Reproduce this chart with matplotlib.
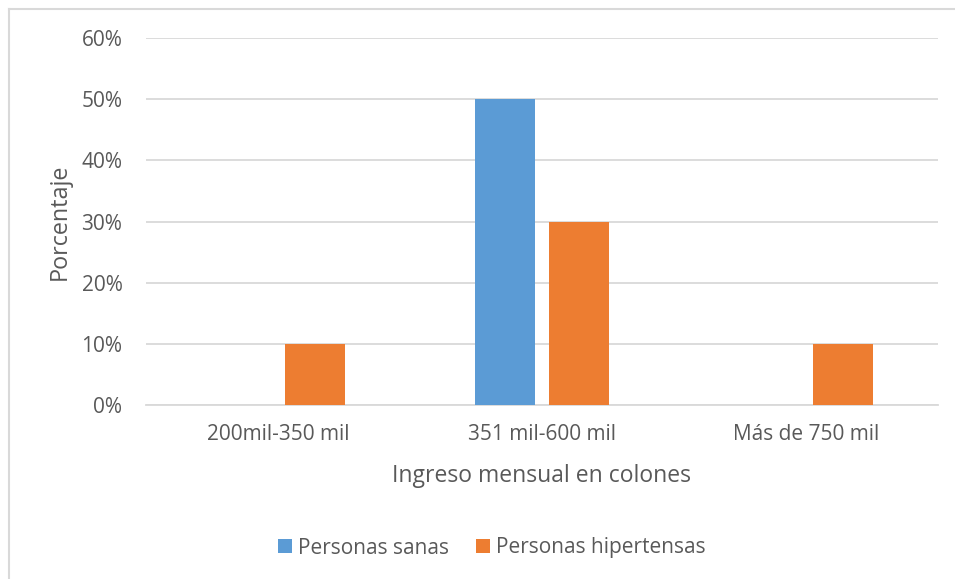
import matplotlib.pyplot as plt
import numpy as np
from matplotlib.ticker import PercentFormatter
from matplotlib.lines import Line2D

categorias = ['200mil-350 mil', '351 mil-600 mil', 'Más de 750 mil']
sanas = [0, 50, 0]
hipertensas = [10, 30, 10]

azul = '#5b9bd5'
naranja = '#ed7d31'
gris_texto = '#595959'
gris_linea = '#d9d9d9'

plt.rcParams['font.family'] = ['Open Sans', 'DejaVu Sans']

fig = plt.figure(figsize=(9.55, 5.79), dpi=100)
ax = fig.add_axes([146 / 955, 1 - 405 / 579, (938 - 146) / 955, (405 - 38) / 579])

x = np.arange(len(categorias))
ancho = 0.224
desp = 0.14
ax.bar(x - desp, sanas, ancho, color=azul, label='Personas sanas', zorder=3)
ax.bar(x + desp, hipertensas, ancho, color=naranja, label='Personas hipertensas', zorder=3)

ax.set_xlim(-0.5, 2.5)
ax.set_ylim(0, 60)
ax.set_yticks(np.arange(0, 61, 10))
ax.yaxis.set_major_formatter(PercentFormatter(decimals=0))
ax.set_xticks(x)
ax.set_xticklabels(categorias)
ax.grid(axis='y', color=gris_linea, linewidth=1.3, zorder=0)
for s in ['top', 'right', 'left']:
    ax.spines[s].set_visible(False)
ax.spines['bottom'].set_color(gris_linea)
ax.spines['bottom'].set_linewidth(1.3)
ax.tick_params(length=0, labelsize=15, labelcolor=gris_texto, pad=14)
ax.tick_params(axis='y', pad=17)

ax.set_ylabel('Porcentaje', fontsize=16.8, color=gris_texto, labelpad=7)
ax.set_xlabel('Ingreso mensual en colones', fontsize=16.5, color=gris_texto, labelpad=13)

fig.legend(loc='center', bbox_to_anchor=(492 / 955, 1 - 548 / 579), ncol=2,
           frameon=False, fontsize=15, labelcolor=gris_texto,
           handlelength=0.67, handleheight=0.67, handletextpad=0.3, columnspacing=1.3)

# marco del gráfico (solo bordes izquierdo y superior)
fig.add_artist(Line2D([9 / 955, 9 / 955], [0, 1 - 9 / 579], color=gris_linea, linewidth=1.5))
fig.add_artist(Line2D([9 / 955, 1], [1 - 9 / 579, 1 - 9 / 579], color=gris_linea, linewidth=1.5))

fig.savefig('out.png', dpi=100)
